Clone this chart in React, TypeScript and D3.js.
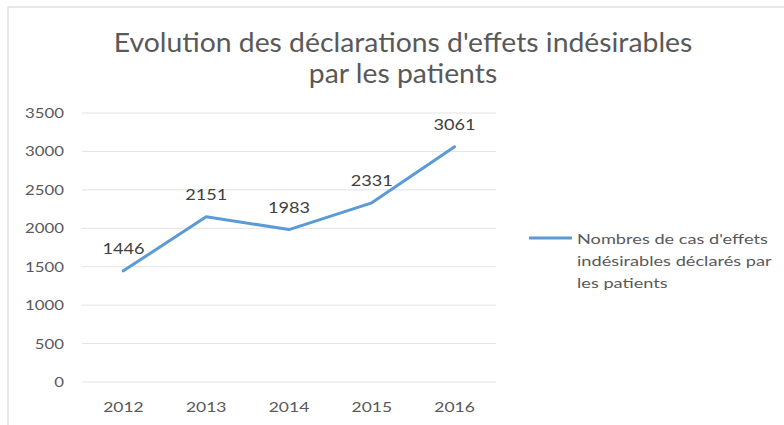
import React from "react";
import * as d3 from "d3";

const years = ["2012", "2013", "2014", "2015", "2016"];
const values = [1446, 2151, 1983, 2331, 3061];
const yTicks = [0, 500, 1000, 1500, 2000, 2500, 3000, 3500];
const titleLines = ["Evolution des déclarations d'effets indésirables", "par les patients"];
const legendLines = ["Nombres de cas d'effets", "indésirables déclarés par", "les patients"];

const font = "Lato, 'Open Sans', sans-serif";

function T(props: { x: number; y: number; sx: number; size: number; anchor?: string; fill: string; weight?: number; children: any }) {
  return (
    <text
      transform={`translate(${props.x},${props.y}) scale(${props.sx},1)`}
      textAnchor={props.anchor || "start"}
      fontFamily={font}
      fontWeight={props.weight || 400}
      fontSize={props.size}
      fill={props.fill}
    >
      {props.children}
    </text>
  );
}

export default function App() {
  const W = 784, H = 425;
  const left = 82, right = 496, top = 113, bottom = 382;
  const x = d3.scaleBand().domain(years).range([left, right]);
  const y = d3.scaleLinear().domain([0, 3500]).range([bottom, top]);
  const cx = (i: number) => x(years[i])! + x.bandwidth() / 2;
  const line = d3.line<number>().x((_, i) => cx(i)).y(d => y(d));
  return (
    <svg width={W} height={H} style={{ position: "absolute", left: 0, top: 0, background: "#fff" }}>
      <rect x={8} y={7} width={W} height={H} fill="#fff" stroke="#d9d9d9" strokeWidth={1.2} />
      {titleLines.map((t, i) => (
        <T key={i} x={403} y={52 + i * 31.3} sx={1.09} anchor="middle" size={26} weight={400} fill="#595959">{t}</T>
      ))}
      {yTicks.map(t => (
        <g key={t}>
          <line x1={left} x2={right} y1={y(t)} y2={y(t)} stroke="#e3e3e3" strokeWidth={1} />
          <T x={64} y={y(t) + 5} sx={1.2} anchor="end" size={14} fill="#595959">{t}</T>
        </g>
      ))}
      {years.map((yr, i) => (
        <T key={yr} x={cx(i)} y={412} sx={1.25} anchor="middle" size={14} fill="#595959">{yr}</T>
      ))}
      <path d={line(values)!} fill="none" stroke="#5b9bd5" strokeWidth={3} strokeLinejoin="round" strokeLinecap="round" />
      {values.map((v, i) => (
        <T key={i} x={cx(i)} y={y(v) - 17} sx={1.25} anchor="middle" size={14.5} fill="#404040">{v}</T>
      ))}
      <line x1={529} x2={572} y1={238} y2={238} stroke="#5b9bd5" strokeWidth={3} />
      {legendLines.map((t, i) => (
        <T key={i} x={577} y={244 + i * 22} sx={1.3} size={14} fill="#595959">{t}</T>
      ))}
    </svg>
  );
}
